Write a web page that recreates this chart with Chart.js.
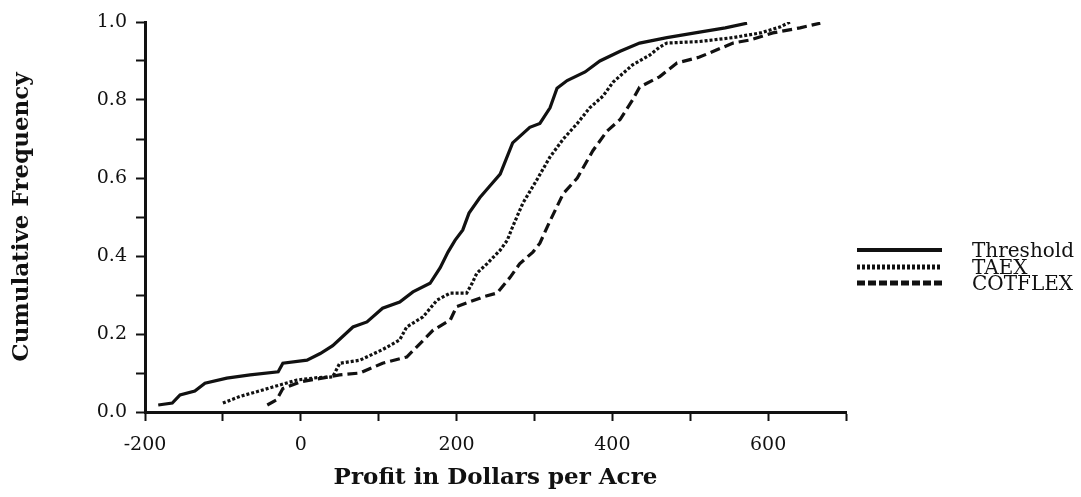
<!DOCTYPE html>
<html>
<head>
<meta charset="utf-8">
<script src="https://cdn.jsdelivr.net/npm/chart.js@4.4.1/dist/chart.umd.min.js"></script>
<style>
  html, body { margin: 0; padding: 0; background: #fff; }
  #wrap { width: 1081px; height: 497px; }
</style>
</head>
<body>
<div id="wrap"><canvas id="cdfChart"></canvas></div>
<script>
// Profit (dollars per acre) vs cumulative frequency
const thresholdX = [-183, -165, -155, -136, -123, -95, -65, -29, -23, 8, 25, 41, 67, 85, 105, 127, 144, 166, 179, 189, 198, 208, 216, 230, 243, 256, 272, 294, 307, 320, 329, 342, 365, 384, 410, 435, 470, 512, 545, 573];
const thresholdY = [0.018, 0.023, 0.044, 0.054, 0.074, 0.087, 0.095, 0.103, 0.125, 0.133, 0.15, 0.17, 0.218, 0.231, 0.266, 0.282, 0.308, 0.33, 0.37, 0.41, 0.44, 0.467, 0.51, 0.55, 0.58, 0.61, 0.69, 0.73, 0.74, 0.78, 0.83, 0.85, 0.872, 0.9, 0.925, 0.946, 0.96, 0.974, 0.985, 0.997];

const taexX = [-100, -78, -60, -36, -5, 21, 41, 50, 76, 105, 127, 136, 157, 175, 192, 213, 220, 226, 239, 256, 265, 272, 285, 303, 320, 337, 355, 371, 388, 401, 426, 448, 461, 470, 512, 555, 590, 615, 628];
const taexY = [0.023, 0.04, 0.05, 0.064, 0.082, 0.088, 0.09, 0.125, 0.133, 0.16, 0.185, 0.218, 0.244, 0.287, 0.305, 0.305, 0.33, 0.356, 0.38, 0.415, 0.44, 0.475, 0.535, 0.595, 0.654, 0.7, 0.74, 0.78, 0.81, 0.846, 0.89, 0.915, 0.936, 0.946, 0.95, 0.96, 0.972, 0.987, 1.0];

const cotflexX = [-43, -31, -23, -1, 50, 76, 105, 136, 149, 170, 192, 200, 234, 252, 269, 281, 298, 307, 320, 337, 355, 375, 393, 410, 426, 435, 461, 483, 512, 555, 577, 606, 641, 667];
const cotflexY = [0.018, 0.031, 0.06, 0.077, 0.095, 0.1, 0.125, 0.141, 0.167, 0.21, 0.236, 0.27, 0.295, 0.305, 0.346, 0.38, 0.41, 0.433, 0.49, 0.56, 0.6, 0.67, 0.72, 0.75, 0.8, 0.833, 0.86, 0.895, 0.91, 0.946, 0.954, 0.972, 0.985, 0.997];

const xLabels = ['-200', '0', '200', '400', '600'];
const yLabels = ['0.0', '0.2', '0.4', '0.6', '0.8', '1.0'];

const seriesNames = ['Threshold', 'TAEX', 'COTFLEX'];
const seriesDash = [[], [3, 2], [10, 5]];

const serif = "'DejaVu Serif', 'Liberation Serif', serif";

const toPoints = (xs, ys) => xs.map((x, i) => ({ x: x, y: ys[i] }));

const lineStyle = (label, pts, dash) => ({
  label: label,
  data: pts,
  showLine: true,
  borderColor: '#111',
  borderWidth: 3.2,
  borderDash: dash,
  pointRadius: 0,
  tension: 0,
  fill: false
});

const dataCdf = {
  datasets: [
    lineStyle(seriesNames[0], toPoints(thresholdX, thresholdY), seriesDash[0]),
    lineStyle(seriesNames[1], toPoints(taexX, taexY), seriesDash[1]),
    lineStyle(seriesNames[2], toPoints(cotflexX, cotflexY), seriesDash[2])
  ]
};

// legend on the right, drawn by hand
const sideLegend = {
  id: 'sideLegend',
  afterDraw: chart => {
    const ctx = chart.ctx;
    ctx.save();
    const rows = [250, 267, 283];
    rows.forEach((y, i) => {
      ctx.beginPath();
      ctx.setLineDash(i === 1 ? [3, 2] : i === 2 ? [8, 3] : []);
      ctx.lineWidth = i === 0 ? 4 : 5;
      ctx.strokeStyle = '#111';
      ctx.moveTo(857, y);
      ctx.lineTo(942, y);
      ctx.stroke();
      ctx.setLineDash([]);
      ctx.fillStyle = '#111';
      ctx.font = '20px ' + serif;
      ctx.textBaseline = 'middle';
      ctx.fillText(seriesNames[i], 972, y + 2);
    });
    ctx.restore();
  }
};

const options = {
  responsive: true,
  maintainAspectRatio: false,
  animation: false,
  layout: {
    padding: { top: 22, right: 235, bottom: 0, left: 0 }
  },
  scales: {
    x: {
      type: 'linear',
      min: -200,
      max: 700,
      afterFit: scale => { scale.height = 85; },
      border: { color: '#111', width: 3 },
      grid: { drawOnChartArea: false, drawTicks: true, tickLength: 9, tickColor: '#111', tickWidth: 2 },
      ticks: {
        stepSize: 100,
        autoSkip: false,
        maxRotation: 0,
        color: '#111',
        padding: 13,
        font: { family: serif, size: 19 },
        callback: v => (v % 200 === 0 && v <= 600 ? xLabels[(v + 200) / 200] : '')
      },
      title: {
        display: true,
        text: 'Profit in Dollars per Acre',
        color: '#111',
        padding: { top: 0, bottom: 5 },
        font: { family: serif, size: 23, weight: 'bold' }
      }
    },
    y: {
      min: 0,
      max: 1,
      afterFit: scale => { scale.width = 145; },
      border: { color: '#111', width: 3 },
      grid: { drawOnChartArea: false, drawTicks: true, tickLength: 9, tickColor: '#111', tickWidth: 2 },
      ticks: {
        stepSize: 0.1,
        autoSkip: false,
        color: '#111',
        padding: 9,
        font: { family: serif, size: 19 },
        callback: v => {
          const k = Math.round(v * 10);
          return k % 2 === 0 ? yLabels[k / 2] : '';
        }
      },
      title: {
        display: true,
        text: 'Cumulative Frequency',
        color: '#111',
        padding: { top: 8, bottom: 0 },
        font: { family: serif, size: 23, weight: 'bold' }
      }
    }
  },
  plugins: {
    legend: { display: false },
    tooltip: { enabled: false }
  }
};

const cdfChart = new Chart(document.getElementById('cdfChart'), {
  type: 'scatter',
  data: dataCdf,
  options: options,
  plugins: [sideLegend]
});
</script>
</body>
</html>
